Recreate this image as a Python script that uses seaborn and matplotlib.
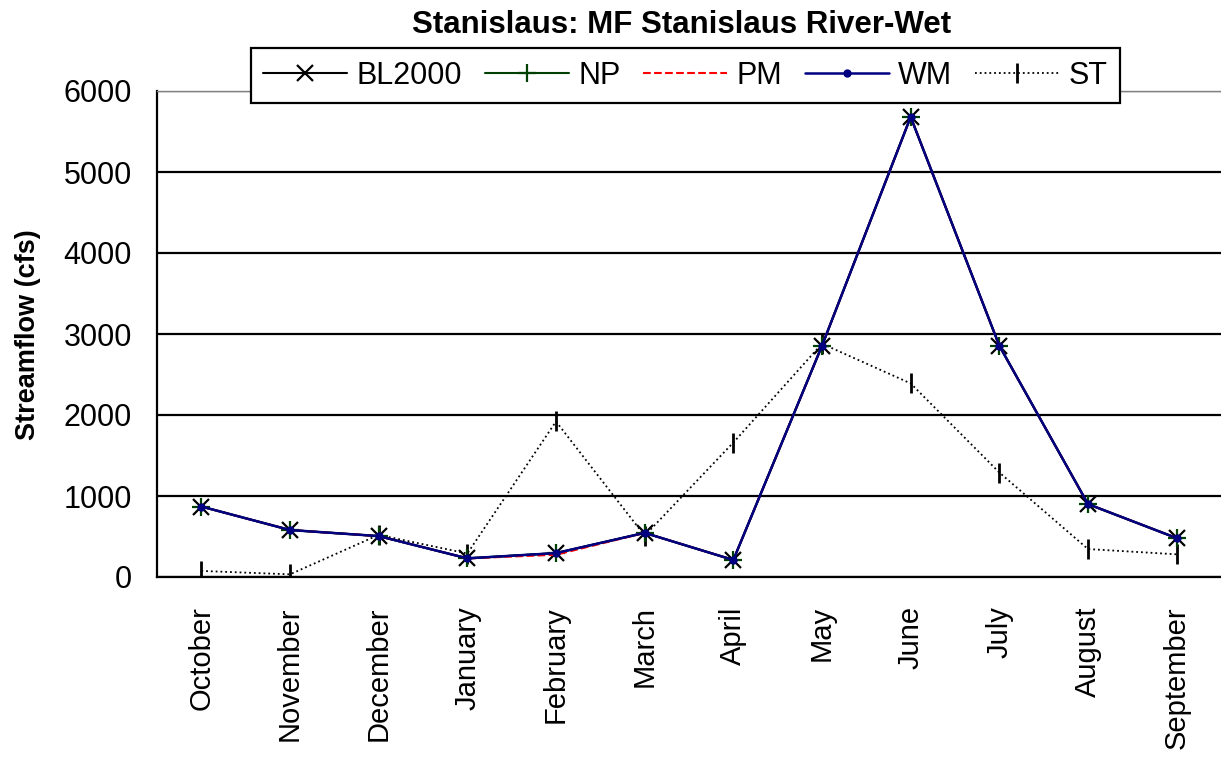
import numpy as np
import pandas as pd
import seaborn as sns
import matplotlib
matplotlib.use('Agg')
import matplotlib.pyplot as plt
from matplotlib.ticker import FixedLocator, NullFormatter


months = ['October', 'November', 'December', 'January', 'February', 'March',
          'April', 'May', 'June', 'July', 'August', 'September']

bl2000 = [870, 580, 505, 230, 295, 545, 210, 2855, 5680, 2855, 900, 480]
np_vals = [870, 580, 505, 230, 295, 545, 210, 2855, 5680, 2855, 900, 480]
pm = [870, 580, 505, 230, 275, 545, 210, 2855, 5680, 2855, 900, 480]
wm = [870, 580, 505, 230, 295, 545, 210, 2855, 5680, 2855, 900, 480]
st = [75, 33, 520, 290, 1920, 510, 1660, 2880, 2390, 1290, 345, 280]

TITLE = 'Stanislaus: MF Stanislaus River-Wet'
YLABEL = 'Streamflow (cfs)'

sns.set_style('white')
plt.rcParams['font.family'] = ['Liberation Sans', 'DejaVu Sans']
plt.rcParams.update({'text.color': 'black', 'axes.labelcolor': 'black',
                     'xtick.color': 'black', 'ytick.color': 'black'})

fig = plt.figure(figsize=(12.21, 7.6), dpi=100)
ax = fig.add_axes([157 / 1221, 1 - 577 / 760, 1 - 157 / 1221, (577 - 91) / 760])

x = np.arange(len(months))

# drawing order: ST underneath, WM on top
sns.lineplot(x=x, y=st, ax=ax, color='black', linestyle=':', linewidth=1.3,
             marker='|', markersize=15, markeredgewidth=2, markeredgecolor='black',
             label='ST', zorder=3)
sns.lineplot(x=x, y=bl2000, ax=ax, color='black', linewidth=1.5,
             marker='x', markersize=12, markeredgewidth=1.6, markeredgecolor='black',
             label='BL2000', zorder=4)
sns.lineplot(x=x, y=np_vals, ax=ax, color='#004000', linewidth=1.5,
             marker='+', markersize=13, markeredgewidth=1.6, markeredgecolor='#004000',
             label='NP', zorder=5)
sns.lineplot(x=x, y=pm, ax=ax, color='#ff0000', linestyle='--', linewidth=1.5,
             label='PM', zorder=6)
sns.lineplot(x=x, y=wm, ax=ax, color='#000080', linewidth=1.8,
             marker='o', markersize=6, markeredgewidth=0, label='WM', zorder=7)

ax.set_xlim(-0.5, len(months) - 0.5)
ax.set_ylim(0, 6000)
ax.set_yticks(range(0, 6001, 1000))
ax.yaxis.grid(True, color='black', linewidth=1.6)
ax.set_axisbelow(True)

# category labels without ticks, tick marks at the category boundaries
ax.set_xticks(x)
ax.set_xticklabels(months, rotation=90, fontsize=21)
ax.xaxis.set_minor_locator(FixedLocator(np.arange(-0.5, len(months), 1.0)))
ax.xaxis.set_minor_formatter(NullFormatter())
ax.tick_params(axis='x', which='major', length=0, pad=21)
ax.tick_params(axis='x', which='minor', length=10, width=1.6, color='black',
               direction='out')
ax.tick_params(axis='y', length=10, width=1.6, color='black', direction='out',
               labelsize=22, pad=8)
ax.set_xlabel('')
ax.set_ylabel('')

for side in ['left', 'bottom']:
    ax.spines[side].set_color('black')
    ax.spines[side].set_linewidth(1.6)
ax.spines['right'].set_visible(False)
ax.spines['top'].set_color('gray')
ax.spines['top'].set_linewidth(1.0)

fig.text(682 / 1221, 1 - 33 / 760, TITLE, ha='center', va='baseline',
         fontsize=22.5, fontweight='bold')
fig.text(28 / 1221, 1 - 335 / 760, YLABEL, ha='center', va='center',
         rotation=90, fontsize=19.5, fontweight='bold')

handles, labels = ax.get_legend_handles_labels()
order = ['BL2000', 'NP', 'PM', 'WM', 'ST']
hmap = dict(zip(labels, handles))
leg = ax.legend([hmap[k] for k in order], order, ncol=5, loc='center',
                bbox_to_anchor=(685.5 / 1221, 1 - 75.5 / 760),
                bbox_transform=fig.transFigure, fontsize=22, frameon=True,
                fancybox=False, edgecolor='black', framealpha=1,
                handlelength=2.75, handletextpad=0.3, columnspacing=0.75,
                borderpad=0.4, borderaxespad=0)
leg.get_frame().set_linewidth(1.6)
leg.set_zorder(10)

fig.savefig('out.png', dpi=100)
